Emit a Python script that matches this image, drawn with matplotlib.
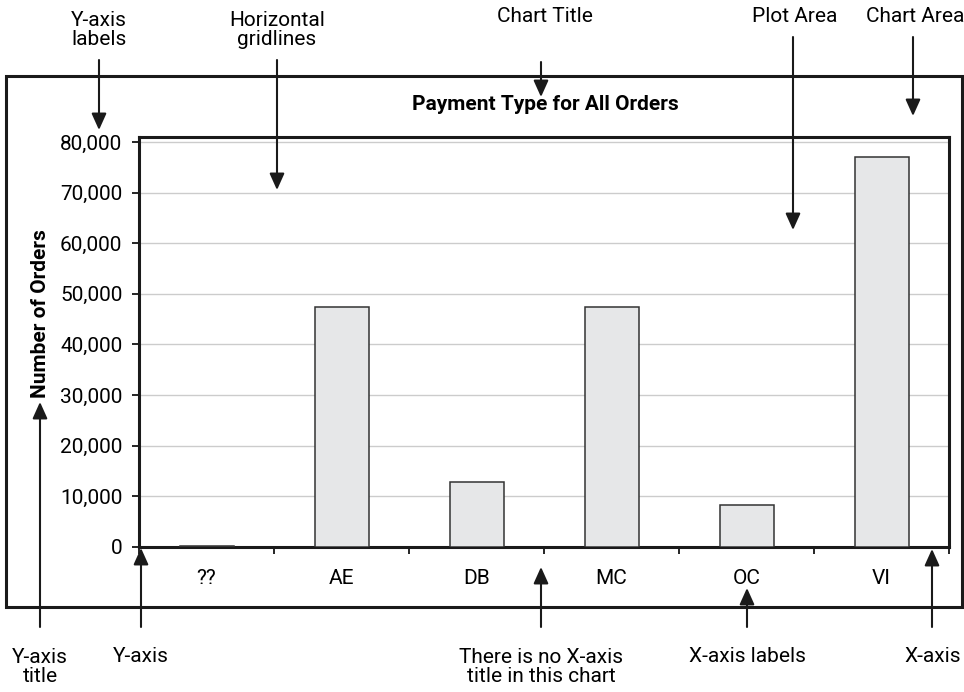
import matplotlib.pyplot as plt
import matplotlib.transforms as mtransforms
from matplotlib.patches import FancyArrowPatch, Rectangle
import numpy as np

plt.rcParams['font.family'] = ['Liberation Sans Narrow', 'Roboto', 'DejaVu Sans']

categories = ['??', 'AE', 'DB', 'MC', 'OC', 'VI']
orders = [200, 47400, 12800, 47400, 8300, 77100]
y_ticks = [0, 10000, 20000, 30000, 40000, 50000, 60000, 70000, 80000]

W, H = 964, 692
fig = plt.figure(figsize=(W / 100, H / 100), dpi=100)
# pixel coordinates, origin top-left
px = mtransforms.Affine2D().scale(1 / W, -1 / H).translate(0, 1) + fig.transFigure

# chart area frame
fig.add_artist(Rectangle((6, 76), 956, 531, transform=px, fill=False,
                         edgecolor='#1a1a1a', linewidth=2.2))

left, right, top, bottom = 139, 949, 137, 546.7
ax = fig.add_axes([left / W, 1 - bottom / H, (right - left) / W, (bottom - top) / H])

x = np.arange(len(categories))
ax.bar(x, orders, width=0.4, color='#e6e7e8', edgecolor='#333333', linewidth=1.1, zorder=3)

ax.set_xlim(-0.5, len(categories) - 0.5)
ax.set_ylim(0, 81000)
ax.set_yticks(y_ticks)
ax.set_yticklabels([f'{v:,}' for v in y_ticks], fontsize=15)
ax.yaxis.grid(True, color='#cccccc', linewidth=1, zorder=0)

ax.set_xticks(x)
ax.set_xticklabels(categories, fontsize=15)
ax.set_xticks(np.arange(len(categories) + 1) - 0.5, minor=True)
ax.tick_params(axis='x', which='major', length=0, pad=16)
ax.tick_params(axis='x', which='minor', length=5, width=1.2, direction='out')
ax.tick_params(axis='y', length=5, width=1.2, direction='out', pad=7)

for s in ax.spines.values():
    s.set_linewidth(2.2)
    s.set_color('#1a1a1a')

fig.text(545 / W, 1 - 105 / H, 'Payment Type for All Orders', fontsize=15,
         fontweight='bold', ha='center', va='center')
fig.text(41 / W, 1 - 314 / H, 'Number of Orders', fontsize=15, fontweight='bold',
         rotation=90, ha='center', va='center')

# callout labels and arrows
labels = [
    ('Y-axis\nlabels', 99, 30),
    ('Horizontal\ngridlines', 277, 30),
    ('Chart Title', 545, 17),
    ('Plot Area', 795, 17),
    ('Chart Area', 915, 17),
    ('Y-axis\ntitle', 40, 667),
    ('Y-axis', 141, 656),
    ('There is no X-axis\ntitle in this chart', 541, 667),
    ('X-axis labels', 747, 656),
    ('X-axis', 933, 656),
]
for txt, lx, ly in labels:
    fig.text(lx / W, 1 - ly / H, txt, fontsize=15, ha='center', va='center',
             linespacing=1.05)

arrows = [
    ((99, 60), (99, 130)),
    ((277, 60), (277, 190)),
    ((541, 62), (541, 97)),
    ((793, 37), (793, 230)),
    ((913, 37), (913, 116)),
    ((40, 627), (40, 402)),
    ((141, 627), (141, 548)),
    ((541, 627), (541, 567)),
    ((747, 627), (747, 588)),
    ((932, 627), (932, 549)),
]
for a, b in arrows:
    fig.add_artist(FancyArrowPatch(a, b, transform=px, arrowstyle='-|>,head_length=1.0,head_width=0.45',
                                   mutation_scale=10, linewidth=1.5, color='#1a1a1a',
                                   shrinkA=0, shrinkB=0))

fig.savefig('out.png', dpi=100)
